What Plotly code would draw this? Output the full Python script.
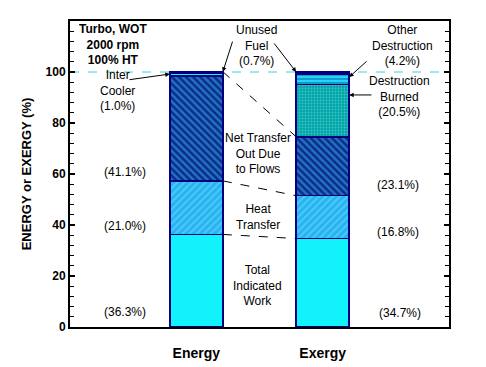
import plotly.graph_objects as go

# ---- data ----
bars = ["Energy", "Exergy"]
bar_x = [1, 2]
segments = ["Total Indicated Work", "Heat Transfer", "Net Transfer Out Due to Flows",
            "Inter Cooler", "Destruction Burned", "Other Destruction", "Unused Fuel"]
energy_vals = [36.3, 21.0, 41.1, 1.0, None, None, 0.7]
exergy_vals = [34.7, 16.8, 23.1, None, 20.5, 4.2, 0.7]
y_ticks = [0, 20, 40, 60, 80, 100, 120]
y_tick_labels = ["0", "20", "40", "60", "80", "100", ""]

# ---- styles ----
NAVY = "#000080"
styles = {
    "Total Indicated Work": dict(color="#12F2FA", pattern=dict(shape="")),
    "Heat Transfer": dict(color="#27B4F0", pattern=dict(shape="/", fgcolor="#7ADFFF", size=5, solidity=0.35, fillmode="overlay")),
    "Net Transfer Out Due to Flows": dict(color="#0A2C8C", pattern=dict(shape="\\", fgcolor="#3CB8EE", size=5, solidity=0.5, fillmode="overlay")),
    "Inter Cooler": dict(color="#12F2FA", pattern=dict(shape="")),
    "Destruction Burned": dict(color="#00A5A8", pattern=dict(shape=".", fgcolor="#7EE2E2", size=3, solidity=0.3, fillmode="overlay")),
    "Other Destruction": dict(color="#22D8F0", pattern=dict(shape="-", fgcolor=NAVY, size=4, solidity=0.3, fillmode="overlay")),
    "Unused Fuel": dict(color="#12F2FA", pattern=dict(shape="")),
}

BW = 0.42
fig = go.Figure()
for i, seg in enumerate(segments):
    st = styles[seg]
    fig.add_trace(go.Bar(
        x=bar_x, y=[energy_vals[i], exergy_vals[i]], width=BW, name=seg,
        marker=dict(color=st["color"], pattern=st["pattern"], line=dict(color=NAVY, width=1.5)),
        showlegend=False, hoverinfo="skip"))


def cum(vals, n):
    return sum(v for v in vals[:n] if v is not None)

e_work, x_work = cum(energy_vals, 1), cum(exergy_vals, 1)
e_heat, x_heat = cum(energy_vals, 2), cum(exergy_vals, 2)
e_top, x_flow = cum(energy_vals, 7), cum(exergy_vals, 3)
x_top = cum(exergy_vals, 7)

xr = bar_x[0] + BW / 2
xl = bar_x[1] - BW / 2
for (y0, y1) in [(e_work, x_work), (e_heat, x_heat), (e_top, x_flow)]:
    fig.add_shape(type="line", x0=xr, y0=y0, x1=xl, y1=y1, xref="x", yref="y",
                  line=dict(color="black", width=1, dash="dash"))

# cyan dashed reference at 100
fig.add_shape(type="line", x0=0, x1=1, xref="paper", y0=100, y1=100, yref="y",
              line=dict(color="#40D0D8", width=1, dash="dash"), layer="below")

F = "Liberation Sans, Arial, sans-serif"

def txt(x, y, t, bold=False, size=12):
    fig.add_annotation(x=x, y=y, xref="x", yref="y", text=t, showarrow=False,
                       font=dict(family=F, size=size, color="black", weight="bold" if bold else "normal"),
                       align="center")

txt(0.34, 110.6, "Turbo, WOT<br>2000 rpm<br>100% HT", bold=True, size=12)
txt(1.48, 110.2, "Unused<br>Fuel<br>(0.7%)")
txt(0.372, 92.6, "Inter<br>Cooler<br>(1.0%)")
txt(2.628, 110.2, "Other<br>Destruction<br>(4.2%)")
txt(2.612, 90.2, "Destruction<br>Burned<br>(20.5%)")
txt(1.488, 68.2, "Net Transfer<br>Out Due<br>to Flows")
txt(1.488, 43.1, "Heat<br>Transfer")
txt(1.488, 16.1, "Total<br>Indicated<br>Work")
txt(0.435, 60.8, "(41.1%)")
txt(0.435, 39.6, "(21.0%)")
txt(0.435, 5.9, "(36.3%)")
txt(2.596, 55.7, "(23.1%)")
txt(2.596, 37.3, "(16.8%)")
txt(2.612, 5.5, "(34.7%)")

def arrow(tx, ty, hx, hy):
    fig.add_annotation(x=hx, y=hy, ax=tx, ay=ty, xref="x", yref="y", axref="x", ayref="y",
                       text="", showarrow=True, arrowhead=2, arrowsize=0.9, arrowwidth=1,
                       arrowcolor="black")

arrow(0.459, 96.9, bar_x[0] - BW / 2, 99.2)
arrow(1.290, 112.5, xr, e_top)
arrow(1.607, 111.8, xl, x_top)
arrow(2.359, 104.7, bar_x[1] + BW / 2, 98.0)
arrow(2.398, 91.0, bar_x[1] + BW / 2, 91.0)

fig.update_layout(
    width=478, height=359, barmode="stack",
    margin=dict(l=62, r=37, t=13, b=40),
    plot_bgcolor="white", paper_bgcolor="white",
    font=dict(family=F, color="black"),
)
fig.update_xaxes(range=[0, 3], tickvals=bar_x, ticktext=bars, ticks="",
                 tickfont=dict(family=F, size=14, weight="bold"), ticklabelstandoff=12,
                 showline=True, linecolor="black", linewidth=2, mirror=True,
                 showgrid=False, zeroline=False, automargin=False)
fig.update_yaxes(range=[0, 120], tickvals=y_ticks, ticktext=y_tick_labels,
                 ticks="inside", ticklen=5, tickwidth=1.5, tickcolor="black",
                 minor=dict(dtick=4, ticks="inside", ticklen=4, tickcolor="black", tickwidth=1),
                 tickfont=dict(family=F, size=12, weight="bold"),
                 showline=True, linecolor="black", linewidth=2, mirror="allticks",
                 showgrid=False, zeroline=False, automargin=False,
                 title=dict(text="ENERGY or EXERGY (%)", standoff=11,
                            font=dict(family=F, size=13, weight="bold")))

fig.write_html("out.html")
